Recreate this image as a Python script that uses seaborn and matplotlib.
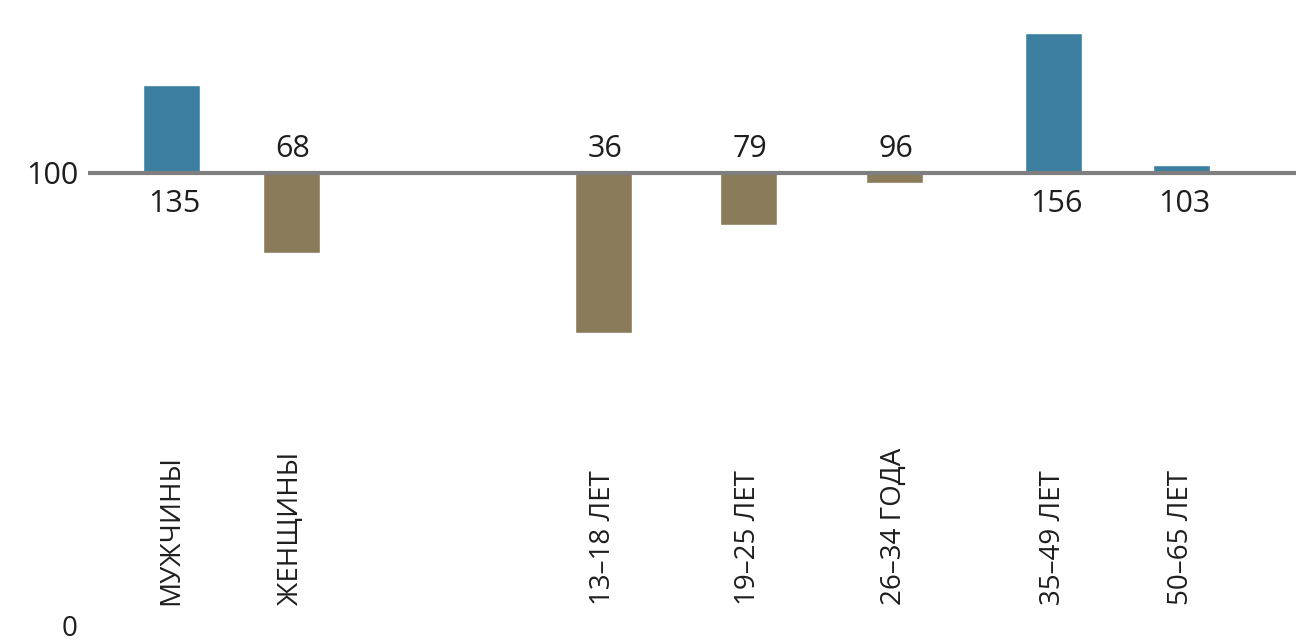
import numpy as np
import pandas as pd
import matplotlib
matplotlib.use("Agg")
import matplotlib.pyplot as plt
import seaborn as sns

# ---- data ----
categories = ["МУЖЧИНЫ", "ЖЕНЩИНЫ", "13–18 ЛЕТ", "19–25 ЛЕТ", "26–34 ГОДА", "35–49 ЛЕТ", "50–65 ЛЕТ"]
values = [135, 68, 36, 79, 96, 156, 103]
base_value = 100

# ---- layout (horizontal slots, not data) ----
slot_pos = [171, 291, 603, 748, 894, 1053, 1181]

W, H = 1296, 643
BASE_PX = 173
PX_PER_UNIT = 2.5
AX_LEFT_PX = 88

BLUE = "#3D7FA1"
BROWN = "#8A7B5B"
LINE = "#7F7F7F"
TXT = "#1E1E1E"

sns.set_theme(style="white")
plt.rcParams["font.family"] = ["Open Sans", "DejaVu Sans"]

fig = plt.figure(figsize=(W / 100, H / 100), dpi=100)
ax = fig.add_axes([AX_LEFT_PX / W, 0, 1 - AX_LEFT_PX / W, 1])

df = pd.DataFrame({
    "pos": slot_pos,
    "dev": [v - base_value for v in values],
    "grp": ["up" if v >= base_value else "down" for v in values],
})

sns.barplot(data=df, x="pos", y="dev", hue="grp",
            palette={"up": BLUE, "down": BROWN},
            native_scale=True, width=0.475, dodge=False,
            saturation=1, legend=False, ax=ax, zorder=2)

ax.set_xlim(AX_LEFT_PX, W)
ax.set_ylim(-(H - BASE_PX) / PX_PER_UNIT, BASE_PX / PX_PER_UNIT)
ax.axhline(0, color=LINE, lw=3, zorder=3)

for s in ax.spines.values():
    s.set_visible(False)
ax.set_xlabel("")
ax.set_ylabel("")
ax.set_xticks([])
ax.set_yticks([0])
ax.set_yticklabels([str(base_value)], fontsize=22, color=TXT)
ax.tick_params(axis="y", length=0, pad=7)

# value labels
for p, v in zip(slot_pos, values):
    if v >= base_value:
        ax.text(p + 3, -12.5, str(v), ha="center", va="center", fontsize=22, color=TXT)
    else:
        ax.text(p + 2, 9.5, str(v), ha="center", va="center", fontsize=22, color=TXT)

# category labels (rotated)
y_lab = -(605 - BASE_PX) / PX_PER_UNIT
for p, c in zip(slot_pos, categories):
    ax.text(p, y_lab, c, rotation=90, ha="center", va="bottom", fontsize=20, color=TXT)

# "0" at the bottom left
fig.text(70 / W, 1 - 629 / H, "0", ha="center", va="center", fontsize=20, color=TXT)

fig.savefig("out.png", dpi=100)
